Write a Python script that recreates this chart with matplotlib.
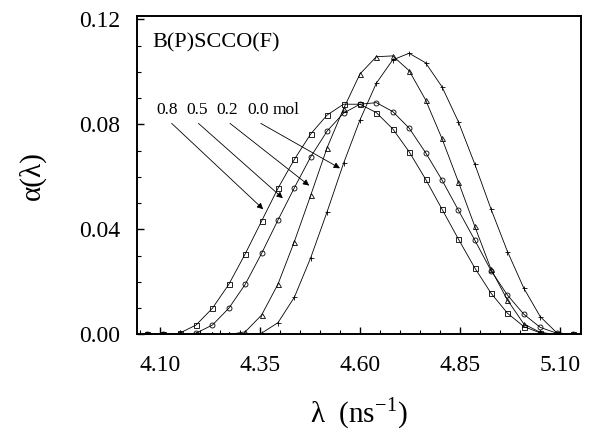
import matplotlib
matplotlib.use("Agg")
import matplotlib.pyplot as plt
from matplotlib.ticker import MultipleLocator

plt.rcParams['font.family'] = ['Liberation Serif', 'DejaVu Serif']
plt.rcParams['mathtext.fontset'] = 'custom'
plt.rcParams['mathtext.rm'] = 'Liberation Serif'

# common lambda grid (ns^-1)
lam = [4.067, 4.108, 4.149, 4.190, 4.231, 4.272, 4.313, 4.354, 4.395,
       4.436, 4.477, 4.518, 4.559, 4.600, 4.641, 4.682, 4.723, 4.764,
       4.805, 4.846, 4.887, 4.928, 4.969, 5.010, 5.051, 5.092, 5.133]

# alpha(lambda) for each composition
alpha_08 = [0, 0, 0.0005, 0.0036, 0.0100, 0.0191, 0.0307, 0.0432, 0.0557,
            0.0667, 0.0764, 0.0836, 0.0877, 0.0877, 0.0845, 0.0783, 0.0696, 0.0592,
            0.0478, 0.0364, 0.0254, 0.0157, 0.0081, 0.0030, 0.0006, 0, 0]
alpha_05 = [0, 0, 0, 0.0005, 0.0036, 0.0100, 0.0191, 0.0309, 0.0436,
            0.0559, 0.0677, 0.0775, 0.0843, 0.0877, 0.0883, 0.0849, 0.0786, 0.0693,
            0.0589, 0.0474, 0.0360, 0.0243, 0.0150, 0.0077, 0.0027, 0.0005, 0]
alpha_02 = [0, 0, 0, 0, 0, 0, 0.0010, 0.0074, 0.0192,
            0.0354, 0.0531, 0.0712, 0.0860, 0.0992, 0.1058, 0.1061, 0.1005, 0.0894,
            0.0747, 0.0582, 0.0413, 0.0248, 0.0131, 0.0040, 0.0008, 0, 0]
alpha_00 = [0, 0, 0, 0, 0, 0, 0, 0.0005, 0.0045,
            0.0142, 0.0293, 0.0468, 0.0652, 0.0817, 0.0957, 0.1046, 0.1071, 0.1035,
            0.0944, 0.0811, 0.0650, 0.0477, 0.0316, 0.0176, 0.0068, 0.0007, 0]

labels = ["0.8", "0.5", "0.2", "0.0"]
series = [alpha_08, alpha_05, alpha_02, alpha_00]
markers = ['s', 'o', '^', '+']

# label text positions and arrow tails/heads (data coords)
label_x = [4.090, 4.167, 4.242, 4.318]
arrow_tails = [(4.129, 0.0804), (4.196, 0.0804), (4.275, 0.0804), (4.352, 0.0804)]
arrow_heads = [(4.358, 0.0477), (4.407, 0.0519), (4.473, 0.0567), (4.550, 0.0633)]

fig = plt.figure(figsize=(5.93, 4.37), dpi=100)
ax = fig.add_axes([0.2315, 0.2346, 0.7483, 0.7288])

for vals, mk in zip(series, markers):
    ax.plot(lam, vals, color='black', lw=0.6, marker=mk, markersize=3.6,
            markerfacecolor='none', markeredgecolor='black', markeredgewidth=0.6)

ax.set_xlim(4.043, 5.153)
ax.set_ylim(0, 0.1213)

ax.xaxis.set_minor_locator(MultipleLocator(0.05))
ax.yaxis.set_minor_locator(MultipleLocator(0.01))
ax.set_xticks([4.10, 4.35, 4.60, 4.85, 5.10])
ax.set_xticklabels(["4.10", "4.35", "4.60", "4.85", "5.10"])
ax.set_yticks([0.00, 0.04, 0.08, 0.12])
ax.set_yticklabels(["0.00", "0.04", "0.08", "0.12"])

ax.tick_params(which='major', direction='in', length=5, width=1.0, labelsize=17)
ax.tick_params(axis='x', which='major', pad=15)
ax.tick_params(axis='y', which='major', pad=12)
ax.tick_params(which='minor', direction='in', length=3, width=0.8)
for sp in ax.spines.values():
    sp.set_linewidth(1.4)

ax.set_ylabel("α(λ)", fontsize=21, labelpad=24)
ax.set_xlabel(r"λ  (ns$^{\mathregular{-1}}$)", fontsize=21, labelpad=14)

ax.text(4.08, 0.111, "B(P)SCCO(F)", fontsize=16, va='center', ha='left')
# composition labels above the arrows
for lab, lx in zip(labels, label_x):
    ax.text(lx, 0.0855, lab, fontsize=12.5, va='center', ha='left')
ax.text(4.3825, 0.0855, "mol", fontsize=12.5, va='center', ha='left')

for tail, head in zip(arrow_tails, arrow_heads):
    ax.annotate("", xy=head, xytext=tail,
                arrowprops=dict(arrowstyle='-|>', color='black', lw=0.6,
                                mutation_scale=9, shrinkA=0, shrinkB=0))

plt.savefig("out.png", dpi=100)
